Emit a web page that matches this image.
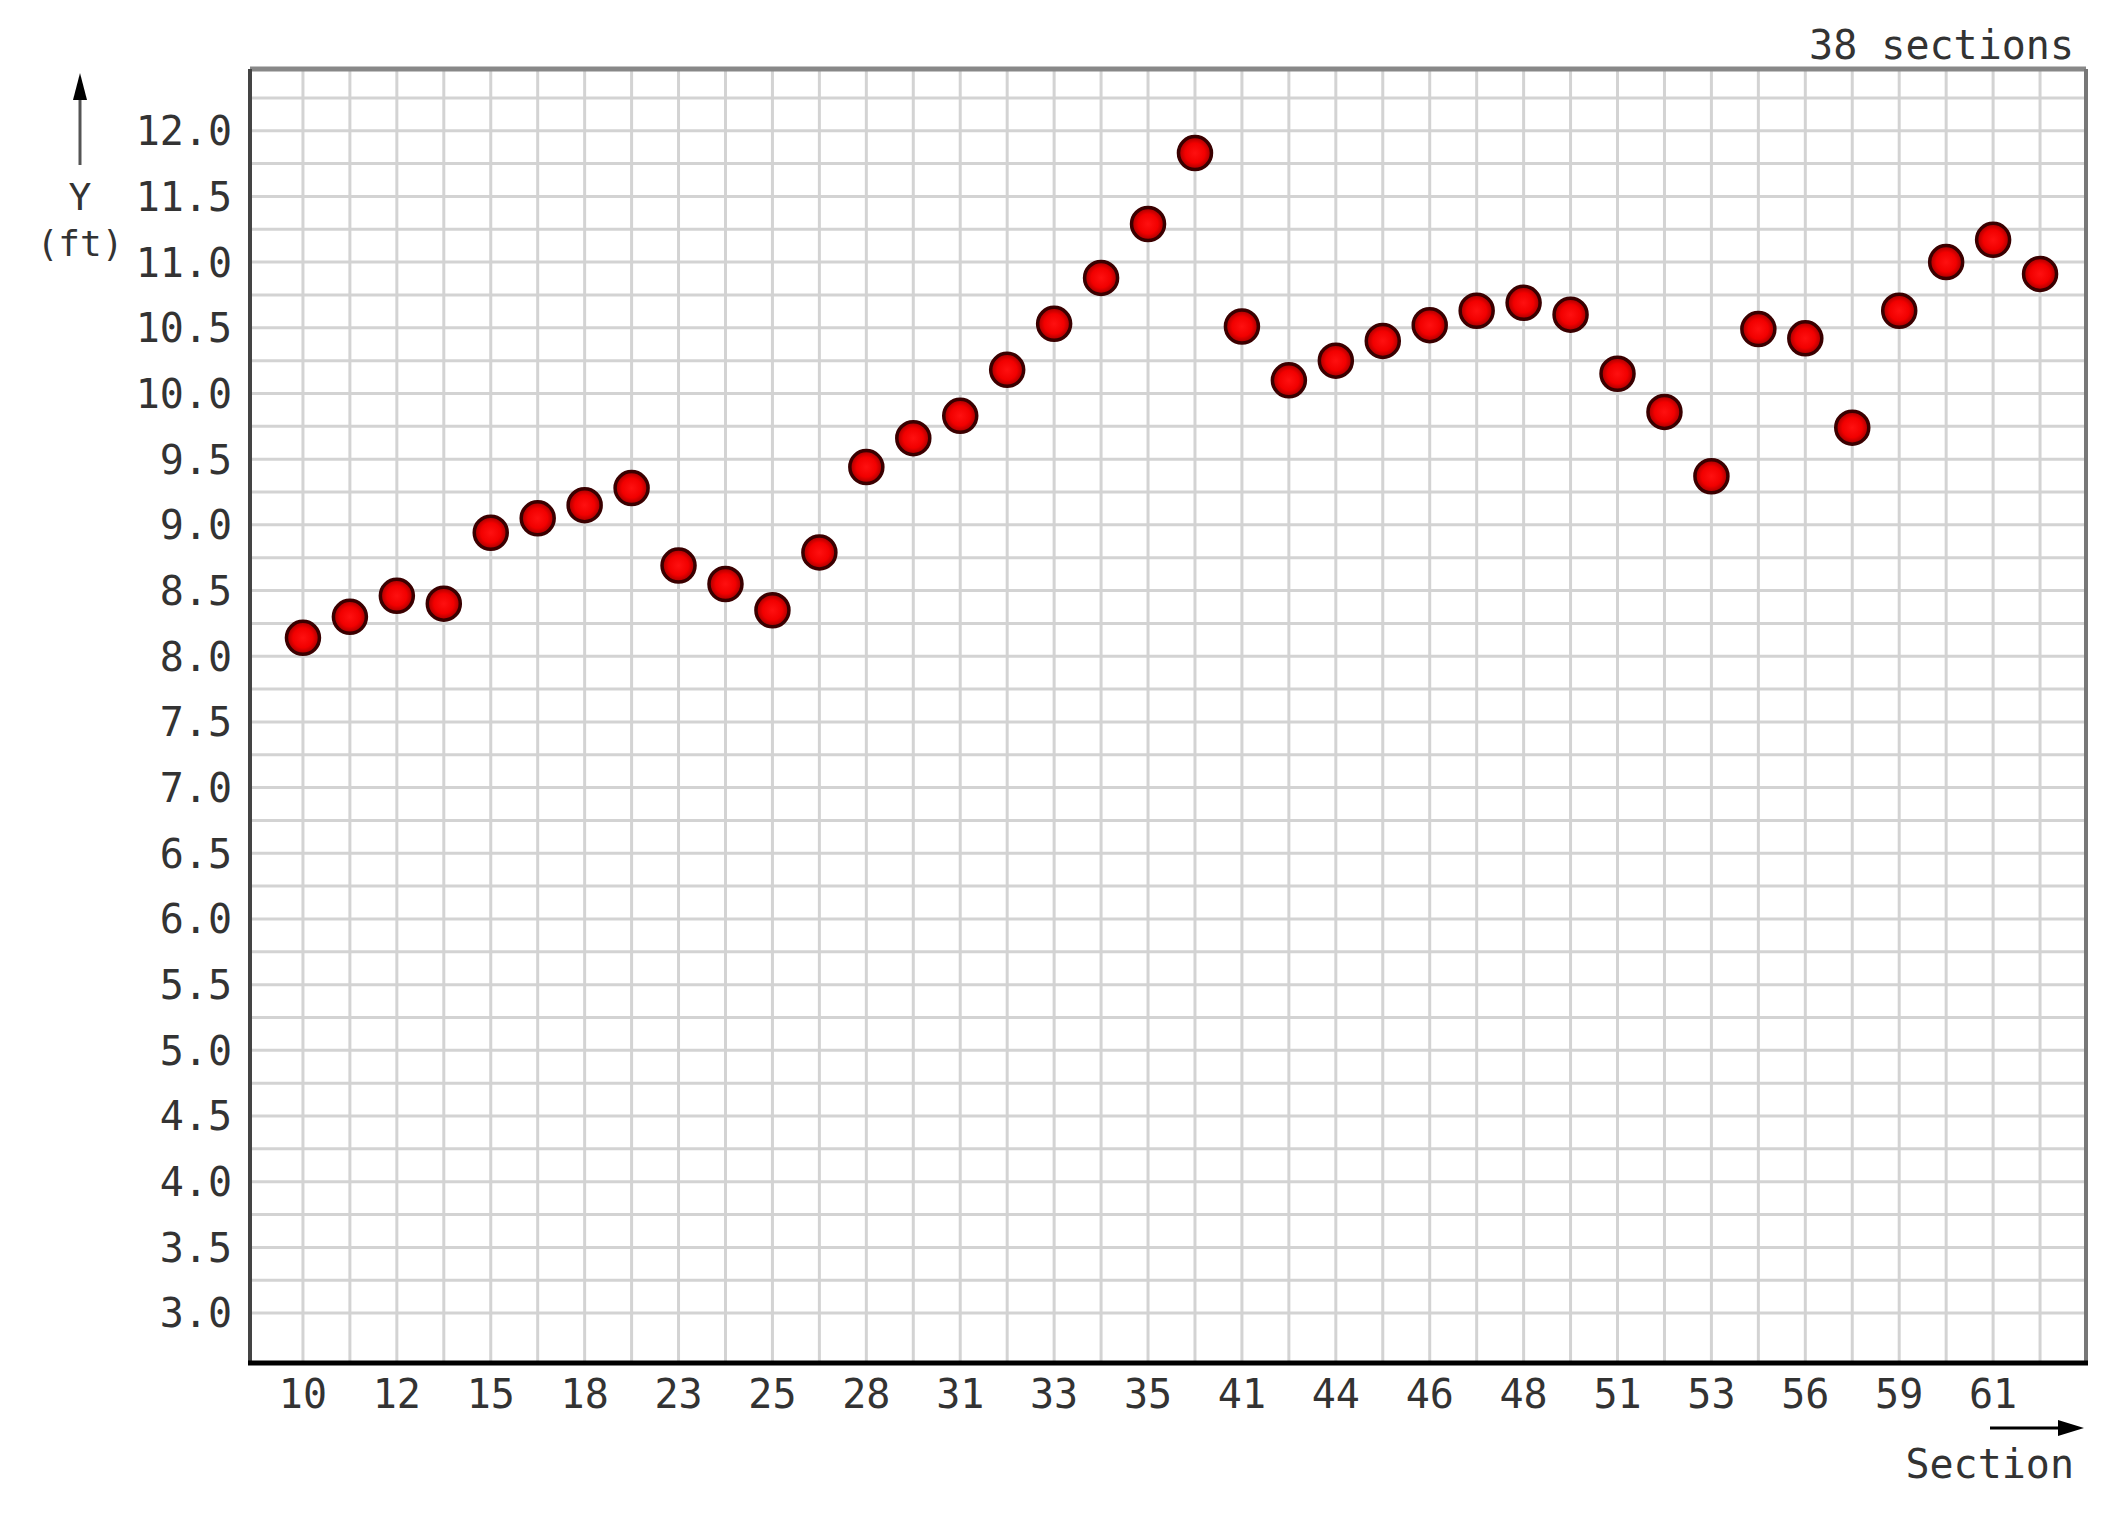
<!DOCTYPE html>
<html>
<head>
<meta charset="utf-8">
<script src="https://cdn.jsdelivr.net/npm/d3@7"></script>
<style>
  body { margin: 0; background: white; }
  text { font-family: 'DejaVu Sans Mono', 'Liberation Mono', monospace; fill: #333; }
</style>
</head>
<body>
<div id="chart-1"></div>
<script>
const sections = [10, 11, 12, 13, 15, 16, 18, 20, 23, 24, 25, 27, 28, 30, 31, 32, 33, 34, 35, 38,
  41, 43, 44, 45, 46, 47, 48, 50, 51, 52, 53, 55, 56, 57, 59, 60, 61, 62]

const yValues = [8.14, 8.30, 8.46, 8.40, 8.94, 9.05, 9.15, 9.28, 8.69, 8.55, 8.35, 8.79, 9.44,
  9.66, 9.83, 10.18, 10.53, 10.88, 11.29, 11.83, 10.51, 10.10, 10.25, 10.40, 10.52, 10.63,
  10.69, 10.60, 10.15, 9.86, 9.37, 10.49, 10.42, 9.74, 10.63, 11.00, 11.17, 10.91]

const yTicks = [3.0, 3.5, 4.0, 4.5, 5.0, 5.5, 6.0, 6.5, 7.0, 7.5, 8.0, 8.5, 9.0, 9.5, 10.0,
  10.5, 11.0, 11.5, 12.0]

const countLabel = '38 sections'

const width = 2117
const height = 1515
const frame = { left: 250, right: 2086, top: 69, bottom: 1363 }

const svg = d3
  .select('#chart-1')
  .append('svg')
  .attr('width', width)
  .attr('height', height)

const defs = svg.append('defs')
const grad = defs
  .append('radialGradient')
  .attr('id', 'dot')
grad.append('stop').attr('offset', '0%').attr('stop-color', '#ff1010')
grad.append('stop').attr('offset', '60%').attr('stop-color', '#f20000')
grad.append('stop').attr('offset', '100%').attr('stop-color', '#a00000')

const x = d3
  .scalePoint()
  .domain(sections)
  .range([frame.left + 6, frame.right + 1])
  .padding(1)

const y = d3
  .scaleLinear()
  .domain([2.62, 12.47])
  .range([frame.bottom, frame.top])

// grid: every 0.25 horizontally, every section vertically
const grid = svg.append('g').attr('stroke', '#d3d3d3').attr('stroke-width', 3)

grid
  .selectAll('.hgrid')
  .data(d3.range(3, 12.3, 0.25))
  .enter()
  .append('line')
  .attr('x1', frame.left)
  .attr('x2', frame.right)
  .attr('y1', d => y(d))
  .attr('y2', d => y(d))

grid
  .selectAll('.vgrid')
  .data(sections)
  .enter()
  .append('line')
  .attr('x1', d => x(d))
  .attr('x2', d => x(d))
  .attr('y1', frame.top)
  .attr('y2', frame.bottom)

// frame
svg.append('line')
  .attr('x1', frame.left).attr('x2', frame.right)
  .attr('y1', frame.top).attr('y2', frame.top)
  .attr('stroke', '#888').attr('stroke-width', 5)
svg.append('line')
  .attr('x1', frame.right).attr('x2', frame.right)
  .attr('y1', frame.top).attr('y2', frame.bottom)
  .attr('stroke', '#777').attr('stroke-width', 4)
svg.append('line')
  .attr('x1', frame.left).attr('x2', frame.left)
  .attr('y1', frame.top).attr('y2', frame.bottom)
  .attr('stroke', '#444').attr('stroke-width', 4)
svg.append('line')
  .attr('x1', frame.left - 2).attr('x2', frame.right + 2)
  .attr('y1', frame.bottom).attr('y2', frame.bottom)
  .attr('stroke', '#000').attr('stroke-width', 5)

// y tick labels
svg
  .selectAll('.ylabel')
  .data(yTicks)
  .enter()
  .append('text')
  .attr('x', 232)
  .attr('y', d => y(d))
  .attr('dy', '0.36em')
  .attr('text-anchor', 'end')
  .attr('font-size', 40)
  .text(d => d.toFixed(1))

// x tick labels, every other section
svg
  .selectAll('.xlabel')
  .data(sections.filter((d, i) => i % 2 === 0))
  .enter()
  .append('text')
  .attr('x', d => x(d))
  .attr('y', 1408)
  .attr('text-anchor', 'middle')
  .attr('font-size', 40)
  .text(d => d)

// axis titles with arrows
svg.append('line')
  .attr('x1', 80).attr('x2', 80)
  .attr('y1', 96).attr('y2', 165)
  .attr('stroke', '#555').attr('stroke-width', 3)
svg.append('path')
  .attr('d', 'M80,73 L73,100 L87,100 Z')
  .attr('fill', '#000')
svg.append('text')
  .attr('x', 80).attr('y', 210)
  .attr('text-anchor', 'middle')
  .attr('font-size', 38)
  .text('Y')
svg.append('text')
  .attr('x', 80).attr('y', 256)
  .attr('text-anchor', 'middle')
  .attr('font-size', 36)
  .text('(ft)')

svg.append('line')
  .attr('x1', 1990).attr('x2', 2062)
  .attr('y1', 1428).attr('y2', 1428)
  .attr('stroke', '#000').attr('stroke-width', 3)
svg.append('path')
  .attr('d', 'M2084,1428 L2058,1420 L2058,1436 Z')
  .attr('fill', '#000')
svg.append('text')
  .attr('x', 2074).attr('y', 1478)
  .attr('text-anchor', 'end')
  .attr('font-size', 40)
  .text('Section')

svg.append('text')
  .attr('x', 2074).attr('y', 59)
  .attr('text-anchor', 'end')
  .attr('font-size', 40)
  .text(countLabel)

// points
svg
  .selectAll('circle')
  .data(yValues)
  .enter()
  .append('circle')
  .attr('cx', (d, i) => x(sections[i]))
  .attr('cy', d => y(d))
  .attr('r', 16.5)
  .attr('fill', 'url(#dot)')
  .attr('stroke', '#3a0000')
  .attr('stroke-width', 3.5)
</script>
</body>
</html>
